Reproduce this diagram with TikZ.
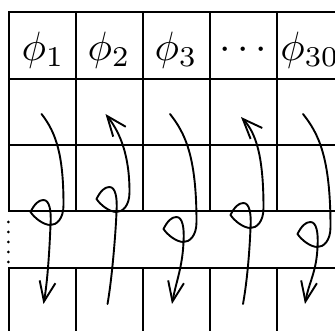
\documentclass[tikz,border=0pt]{standalone}
\usetikzlibrary{arrows.meta}
\tikzset{
  gridline/.style={line width=2pt, line cap=rect},
  curve/.style={line width=1.9pt, line cap=round, line join=round},
  barb/.style={-{Straight Barb[length=20pt,width=16pt,line width=1.9pt]}},
  rbarb/.style={{Straight Barb[length=20pt,width=16pt,line width=1.9pt]}-},
  lbl/.style={inner sep=0pt, scale=4.1}
}
% #1 arrow style, #2 column left x, #3 crossing y, #4 start rel x, #5 end rel x, #6 start y
\newcommand\curlpath[6]{%
  \begin{scope}[shift={(#2,0)}]
    \pgfmathsetmacro\ya{#3-20}
    \pgfmathsetmacro\yb{#3-6}
    \pgfmathsetmacro\yh{#3-7}
    \pgfmathsetmacro\yc{#3-13}
    \pgfmathsetmacro\yd{#3-21}
    \pgfmathsetmacro\ye{#3-25}
    \pgfmathsetmacro\yf{#3-14}
    \pgfmathsetmacro\yg{#3+25}
    \pgfmathsetmacro\xs{#4+15}
    \pgfmathsetmacro\xe{#5+4}
    \draw[curve,#1] (#4,#6) .. controls (\xs,133) and (54,156) .. (54,\ya)
      .. controls (54,\yb) and (47,#3) .. (41,#3)
      .. controls (34,#3) and (25,\yh) .. (21,\yc)
      .. controls (25,\yd) and (29,\ye) .. (34,\ye)
      .. controls (40,\ye) and (42,\yf) .. (41,#3)
      .. controls (40,\yg) and (\xe,282) .. (#5,304);
  \end{scope}}
\begin{document}
\begin{tikzpicture}[x=1pt,y=-1pt]
\useasboundingbox (0,0) rectangle (335,331);
\begin{scope}
\clip (0,0) rectangle (335,331);
% horizontal lines
\foreach \y in {12,79,145,211,268}
  \draw[gridline] (8.5,\y) -- (345,\y);
% vertical lines
\foreach \x in {8.5,75.5,142.5,209.5,276.5}{
  \draw[gridline] (\x,12) -- (\x,211);
  \draw[gridline] (\x,268) -- (\x,340);
}
\end{scope}
% dots
\foreach \y in {222,232,242,252,262}
  \fill (8.3,\y) circle (1.5pt);
% labels
\node[lbl] (p1) at (43,50) {$\phi_1$};
\node[lbl] (p2) at (109,50) {$\phi_2$};
\node[lbl] (p3) at (176,50) {$\phi_3$};
\node[lbl] (p4) at (243,50) {$\cdots$};
\node[lbl] (p5) at (310,50) {$\phi_{30}$};
% curls
\curlpath{barb}{9.5}{225}{32}{34}{114}
\curlpath{rbarb}{75.5}{212}{30}{32}{114}
\curlpath{barb}{142.5}{242}{27.5}{29.5}{114}
\curlpath{rbarb}{209.5}{228}{31.5}{33.5}{117}
\curlpath{barb}{276.5}{247}{26.5}{28.5}{114}
\end{tikzpicture}
\end{document}
